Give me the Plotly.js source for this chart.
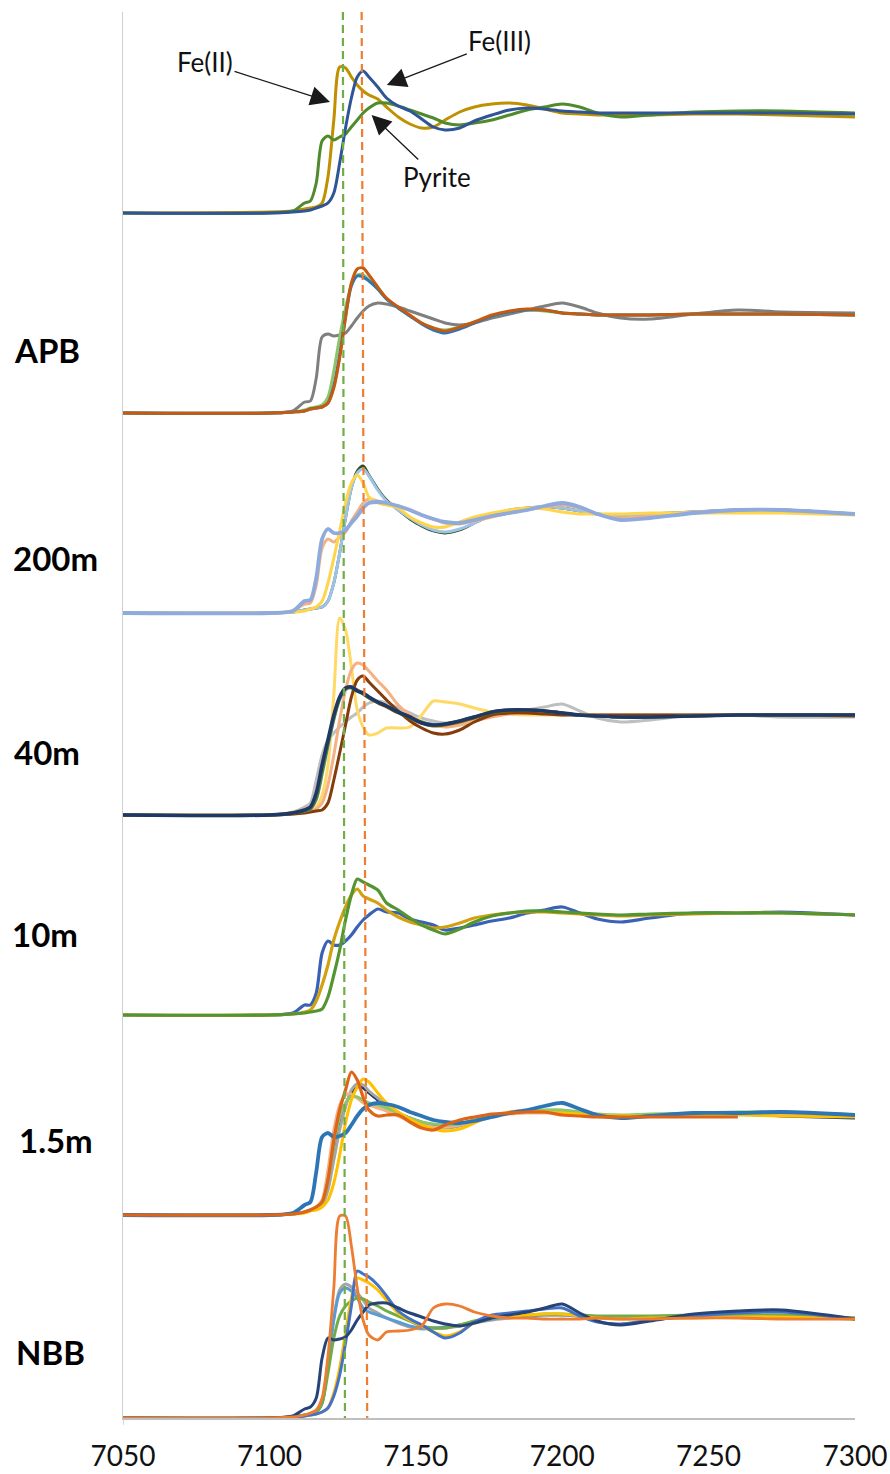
<!DOCTYPE html>
<html>
<head>
<meta charset="utf-8">
<script src="https://cdn.plot.ly/plotly-3.0.1.min.js"></script>
<style>
  html, body { margin: 0; padding: 0; background: #fff; }
  #chart { width: 890px; height: 1474px; }
</style>
</head>
<body>
<div id="chart"></div>
<script>
// ---------- DATA ----------
// common energy grid (eV)
const energy = [7050, 7100, 7108, 7112, 7114, 7116, 7118, 7120, 7122, 7124,
                7126, 7128, 7130, 7132, 7134, 7137, 7140, 7144, 7148, 7152,
                7156, 7160, 7165, 7170, 7176, 7182, 7188, 7194, 7200, 7206,
                7212, 7220, 7230, 7245, 7260, 7275, 7300];
const xTicks = [7050, 7100, 7150, 7200, 7250, 7300];
const panelLabels = ["APB", "200m", "40m", "10m", "1.5m", "NBB"];

// normalized absorbance (standards)
const top_feII   = [0,0.01,0.02,0.04,0.05,0.06,0.10,0.36,0.93,1.46, 1.45,1.36,1.28,1.22,1.18,1.14,1.06,0.96,0.89,0.85, 0.86,0.93,1.01,1.06,1.09,1.10,1.08,1.04,1.00,0.99, 0.98,0.98,0.98,0.99,0.99,0.98,0.96];
const top_feIII  = [0,0.00,0.01,0.02,0.03,0.05,0.07,0.10,0.20,0.50, 0.85,1.15,1.36,1.42,1.36,1.26,1.15,1.07,1.02,0.94, 0.86,0.83,0.85,0.92,0.98,1.03,1.05,1.04,1.02,1.01, 1.00,1.00,1.00,1.00,1.00,1.00,0.99];
const top_pyrite = [0,0.00,0.02,0.10,0.12,0.30,0.72,0.77,0.73,0.76, 0.79,0.86,0.93,1.00,1.05,1.10,1.10,1.07,1.03,0.99, 0.95,0.90,0.88,0.90,0.93,0.98,1.03,1.06,1.09,1.06, 1.00,0.96,0.98,1.01,1.02,1.02,1.00];

// APB
const apb_orange = [0,0.00,0.01,0.02,0.04,0.05,0.06,0.10,0.25,0.55, 0.95,1.30,1.44,1.45,1.38,1.26,1.15,1.06,0.98,0.90, 0.85,0.82,0.86,0.91,0.98,1.02,1.04,1.03,1.00,0.99, 0.98,0.98,0.98,0.99,0.99,0.99,0.98];
const apb_blue   = [0,0.00,0.01,0.02,0.04,0.05,0.06,0.10,0.27,0.58, 0.97,1.27,1.37,1.36,1.32,1.24,1.14,1.05,0.97,0.89, 0.83,0.80,0.84,0.90,0.97,1.01,1.03,1.03,1.00,0.99, 0.98,0.98,0.98,0.99,0.99,0.99,0.98];
const apb_green  = [0,0.00,0.01,0.03,0.05,0.06,0.08,0.16,0.42,0.76, 1.05,1.28,1.38,1.38,1.33,1.24,1.14,1.05,0.97,0.90, 0.85,0.83,0.86,0.91,0.97,1.01,1.03,1.02,1.00,0.99, 0.98,0.98,0.98,0.99,0.99,0.99,0.98];
const apb_gray   = [0,0.00,0.02,0.11,0.12,0.35,0.76,0.79,0.77,0.78, 0.80,0.87,0.95,1.02,1.07,1.10,1.09,1.06,1.02,0.98, 0.94,0.90,0.88,0.90,0.95,0.99,1.03,1.07,1.10,1.06, 1.00,0.95,0.94,0.99,1.03,1.01,1.00];

// 200m
const m200_dkgreen = [0,0.00,0.01,0.03,0.04,0.05,0.06,0.12,0.30,0.60, 0.95,1.25,1.42,1.47,1.38,1.24,1.13,1.03,0.94,0.87, 0.82,0.80,0.83,0.90,0.98,1.03,1.05,1.06,1.05,1.02, 0.99,0.98,0.99,1.01,1.03,1.03,0.99];
const m200_ltblue  = [0,0.00,0.01,0.03,0.04,0.05,0.06,0.12,0.30,0.60, 0.95,1.25,1.40,1.44,1.37,1.23,1.12,1.03,0.95,0.88, 0.83,0.81,0.84,0.90,0.98,1.03,1.05,1.06,1.05,1.02, 0.99,0.98,0.99,1.01,1.03,1.03,0.99];
const m200_yellow  = [0,0.00,0.01,0.02,0.04,0.06,0.12,0.30,0.55,0.82, 1.10,1.30,1.38,1.30,1.16,1.10,1.08,1.05,0.96,0.90, 0.86,0.86,0.91,0.96,1.00,1.03,1.05,1.04,1.01,0.99, 0.99,0.99,1.00,1.00,1.00,1.00,0.98];
const m200_salmon  = [0,0.00,0.02,0.09,0.10,0.28,0.65,0.74,0.71,0.76, 0.81,0.92,1.01,1.10,1.14,1.12,1.10,1.07,1.03,0.98, 0.94,0.90,0.89,0.92,0.96,1.00,1.03,1.06,1.08,1.05, 0.99,0.95,0.97,1.01,1.03,1.03,0.99];
const m200_peri    = [0,0.00,0.02,0.12,0.13,0.35,0.74,0.84,0.80,0.80, 0.83,0.90,0.97,1.05,1.10,1.11,1.10,1.07,1.03,0.98, 0.94,0.91,0.90,0.93,0.97,1.00,1.03,1.07,1.10,1.06, 0.99,0.93,0.95,1.00,1.03,1.03,0.99];

// 40m
const m40_yellow = [0,0.00,0.01,0.03,0.05,0.08,0.20,0.50,1.20,1.97, 1.85,1.48,1.05,0.88,0.80,0.82,0.87,0.87,0.88,1.00, 1.14,1.13,1.11,1.07,1.03,1.01,1.00,1.00,1.00,1.00, 1.00,1.00,1.00,1.00,1.00,1.00,0.99];
const m40_salmon = [0,0.00,0.01,0.03,0.04,0.06,0.12,0.30,0.60,0.95, 1.25,1.45,1.52,1.50,1.44,1.34,1.25,1.10,1.00,0.93, 0.90,0.88,0.90,0.94,0.98,1.01,1.02,1.02,1.01,1.00, 1.00,1.00,1.00,1.00,1.00,1.00,0.99];
const m40_brown  = [0,0.00,0.01,0.02,0.03,0.04,0.05,0.12,0.35,0.62, 0.90,1.18,1.35,1.39,1.33,1.24,1.15,1.04,0.94,0.87, 0.82,0.81,0.85,0.93,1.00,1.02,1.02,1.01,1.00,1.00, 1.00,1.00,1.00,1.00,1.00,1.00,0.99];
const m40_gray   = [0,0.00,0.03,0.08,0.12,0.35,0.60,0.75,0.82,0.88, 0.93,0.98,1.02,1.08,1.12,1.14,1.12,1.07,1.02,0.97, 0.94,0.92,0.93,0.96,0.99,1.02,1.05,1.08,1.11,1.04, 0.97,0.93,0.95,1.00,1.00,0.98,0.98];
const m40_ltblue = [0,0.00,0.02,0.04,0.06,0.15,0.40,0.68,0.95,1.15, 1.25,1.28,1.25,1.22,1.18,1.13,1.09,1.03,0.98,0.93, 0.91,0.91,0.94,0.98,1.03,1.05,1.05,1.04,1.02,1.00, 0.99,0.98,0.98,0.99,1.00,1.00,1.00];
const m40_olive  = [0,0.00,0.02,0.04,0.07,0.18,0.45,0.72,0.98,1.17, 1.26,1.28,1.25,1.21,1.17,1.12,1.08,1.02,0.97,0.92, 0.89,0.90,0.93,0.97,1.02,1.04,1.05,1.04,1.02,1.00, 0.99,0.98,0.98,0.99,1.00,1.00,1.00];
const m40_green  = [0,0.00,0.02,0.04,0.06,0.16,0.42,0.70,0.96,1.16, 1.26,1.27,1.24,1.21,1.17,1.13,1.09,1.03,0.98,0.93, 0.90,0.91,0.94,0.98,1.03,1.05,1.05,1.04,1.02,1.00, 0.99,0.98,0.98,0.99,1.00,1.00,1.00];
const m40_navy   = [0,0.00,0.02,0.05,0.08,0.22,0.50,0.75,1.00,1.18, 1.27,1.28,1.24,1.22,1.18,1.13,1.09,1.03,0.98,0.92, 0.90,0.91,0.94,0.98,1.03,1.05,1.05,1.04,1.02,1.00, 0.99,0.98,0.98,0.99,1.00,1.00,1.00];

// 10m
const m10_blue  = [0,0.00,0.02,0.10,0.10,0.22,0.62,0.74,0.70,0.70, 0.74,0.80,0.88,0.95,1.00,1.06,1.03,1.02,0.96,0.93, 0.90,0.85,0.87,0.90,0.94,0.97,1.02,1.05,1.08,1.02, 0.96,0.93,0.97,1.02,1.02,1.03,1.00];
const m10_gold  = [0,0.00,0.01,0.03,0.05,0.14,0.30,0.50,0.75,0.93, 1.08,1.20,1.26,1.19,1.16,1.12,1.05,0.98,0.93,0.90, 0.87,0.88,0.92,0.97,1.00,1.02,1.03,1.03,1.02,1.01, 1.00,0.99,1.00,1.01,1.02,1.02,1.00];
const m10_green = [0,0.00,0.01,0.02,0.03,0.04,0.06,0.18,0.40,0.65, 0.95,1.20,1.36,1.33,1.30,1.25,1.12,1.05,0.97,0.90, 0.85,0.81,0.86,0.93,0.99,1.02,1.04,1.04,1.03,1.02, 1.01,1.00,1.01,1.02,1.02,1.02,1.00];

// 1.5m
const m15_navy   = [0,0.00,0.01,0.03,0.05,0.08,0.12,0.30,0.60,0.90, 1.10,1.22,1.28,1.27,1.22,1.15,1.09,1.02,0.97,0.93, 0.90,0.89,0.91,0.95,0.99,1.02,1.03,1.03,1.02,1.01, 1.00,0.99,1.00,1.01,1.01,0.99,0.97];
const m15_gray   = [0,0.00,0.01,0.03,0.05,0.07,0.10,0.25,0.55,0.85, 1.08,1.25,1.31,1.30,1.24,1.17,1.10,1.02,0.96,0.91, 0.88,0.87,0.89,0.94,0.99,1.02,1.03,1.03,1.02,1.01, 1.00,0.99,1.00,1.01,1.01,1.01,0.99];
const m15_salmon = [0,0.00,0.01,0.03,0.05,0.08,0.15,0.45,0.85,1.10, 1.20,1.21,1.17,1.12,1.10,1.07,1.04,0.99,0.94,0.90, 0.88,0.88,0.90,0.94,0.98,1.01,1.02,1.02,1.02,1.01, 1.00,0.99,1.00,1.01,1.01,1.01,0.99];
const m15_green  = [0,0.00,0.01,0.03,0.05,0.08,0.12,0.35,0.70,0.98, 1.12,1.18,1.18,1.15,1.12,1.10,1.07,1.02,0.97,0.93, 0.91,0.90,0.91,0.95,0.99,1.02,1.04,1.05,1.05,1.03, 1.01,1.00,1.01,1.02,1.03,1.03,1.00];
const m15_yellow = [0,0.00,0.01,0.02,0.04,0.05,0.08,0.15,0.32,0.60, 0.92,1.15,1.28,1.36,1.33,1.22,1.12,1.03,0.96,0.90, 0.86,0.84,0.86,0.92,0.99,1.03,1.04,1.03,1.02,1.01, 1.00,0.99,0.99,1.00,1.00,0.99,0.98];
const m15_blue   = [0,0.00,0.02,0.10,0.13,0.43,0.78,0.82,0.78,0.79, 0.82,0.90,0.99,1.06,1.10,1.12,1.11,1.08,1.03,0.99, 0.95,0.93,0.92,0.94,0.98,1.02,1.05,1.09,1.12,1.06, 1.00,0.97,0.99,1.02,1.02,1.03,1.00];
const m15_orange = [0,0.00,0.01,0.03,0.05,0.08,0.13,0.35,0.75,1.05, 1.25,1.43,1.35,1.18,1.05,0.99,1.00,1.00,0.93,0.87, 0.85,0.90,0.95,0.98,1.01,1.02,1.03,1.03,1.00,0.99, 0.98,0.98,0.98,0.98,0.98,null,null];

// NBB
const nbb_navy   = [0,0.00,0.02,0.09,0.11,0.20,0.60,0.80,0.78,0.79, 0.81,0.88,0.98,1.06,1.13,1.15,1.15,1.10,1.05,1.01, 0.97,0.94,0.92,0.95,1.00,1.03,1.06,1.10,1.14,1.05, 0.97,0.93,0.97,1.04,1.07,1.08,0.99];
const nbb_green  = [0,0.00,0.01,0.03,0.04,0.06,0.15,0.45,0.80,1.02, 1.12,1.17,1.20,1.19,1.16,1.12,1.07,1.02,0.97,0.92, 0.90,0.90,0.93,0.97,1.00,1.02,1.03,1.04,1.04,1.03, 1.02,1.02,1.02,1.03,1.03,1.03,1.00];
const nbb_gray   = [0,0.00,0.01,0.03,0.04,0.06,0.15,0.55,1.00,1.28, 1.34,1.31,1.25,1.18,1.10,1.05,1.00,0.95,0.91,0.89, 0.90,0.90,0.92,0.95,0.98,1.00,1.02,1.03,1.03,1.02, 1.01,1.00,1.01,1.02,1.02,1.02,1.00];
const nbb_ltblue = [0,0.00,0.01,0.03,0.04,0.06,0.15,0.55,0.98,1.25, 1.30,1.27,1.20,1.10,1.06,1.03,1.00,0.96,0.92,0.90, 0.90,0.91,0.93,0.96,0.99,1.01,1.02,1.03,1.03,1.02, 1.01,1.00,1.01,1.02,1.02,1.01,0.99];
const nbb_yellow = [0,0.00,0.01,0.02,0.03,0.04,0.06,0.10,0.25,0.50, 0.85,1.20,1.40,1.38,1.35,1.28,1.18,1.05,0.98,0.92, 0.86,0.82,0.86,0.95,1.00,1.02,1.03,1.04,1.04,1.02, 1.00,0.99,1.00,1.00,1.01,1.01,0.99];
const nbb_royal  = [0,0.00,0.00,0.02,0.03,0.04,0.06,0.10,0.22,0.43, 0.75,1.12,1.47,1.44,1.41,1.33,1.22,1.07,0.99,0.93, 0.86,0.80,0.85,0.96,1.03,1.05,1.07,1.09,1.10,1.02, 0.96,0.94,0.98,1.02,1.05,1.06,0.99];
const nbb_orange = [0,0.00,0.01,0.03,0.05,0.08,0.20,0.62,1.30,2.02, 2.02,1.72,1.30,0.98,0.83,0.78,0.86,0.87,0.88,0.92, 1.10,1.14,1.12,1.06,1.02,1.00,1.00,0.99,0.99,0.99, 1.00,0.99,0.99,1.00,1.00,0.99,0.99];

// reference energies of the dashed guide lines (top, bottom)
const feIIEdge  = [7125.1, 7125.8];
const feIIIEdge = [7131.5, 7133.4];

// ---------- CHART ----------
const panels = [
  { offset: 12.05, label: null, series: [
      [top_feII, '#BF9000', 3.0], [top_pyrite, '#4F8A2C', 3.0], [top_feIII, '#2F5597', 3.0]] },
  { offset: 10.05, label: 0, series: [
      [apb_gray, '#7F7F7F', 3.0], [apb_green, '#8DC66A', 3.0], [apb_blue, '#2E75B6', 3.0], [apb_orange, '#C55A11', 3.0]] },
  { offset: 8.05, label: 1, series: [
      [m200_dkgreen, '#2F4F1F', 2.8], [m200_ltblue, '#9DC3E6', 3.0], [m200_salmon, '#F4B183', 3.0],
      [m200_yellow, '#FFD54A', 3.0], [m200_peri, '#8FAADC', 3.8]] },
  { offset: 6.03, label: 2, series: [
      [m40_gray, '#BFBFBF', 3.0], [m40_yellow, '#FFD966', 3.0], [m40_salmon, '#F4B183', 3.0],
      [m40_brown, '#843C0C', 3.0], [m40_ltblue, '#9DC3E6', 3.0], [m40_olive, '#7F6000', 3.0],
      [m40_green, '#548235', 3.0], [m40_navy, '#203864', 3.6]] },
  { offset: 4.03, label: 3, series: [
      [m10_blue, '#3A62B4', 3.2], [m10_gold, '#D1A10E', 3.2], [m10_green, '#559531', 3.2]] },
  { offset: 2.03, label: 4, series: [
      [m15_navy, '#203864', 2.8], [m15_gray, '#A5A5A5', 3.0], [m15_salmon, '#F4B183', 3.0],
      [m15_green, '#8DC66A', 3.0], [m15_yellow, '#FFC000', 3.0], [m15_blue, '#2E75B6', 3.8],
      [m15_orange, '#DE6418', 3.2]] },
  { offset: 0.0, label: 5, series: [
      [nbb_gray, '#A5A5A5', 3.0], [nbb_ltblue, '#5B9BD5', 3.0], [nbb_green, '#70AD47', 3.0],
      [nbb_yellow, '#FFC000', 3.0], [nbb_royal, '#4472C4', 3.0], [nbb_navy, '#264478', 3.0],
      [nbb_orange, '#ED7D31', 2.8]] }
];

const traces = [];
panels.forEach(p => {
  p.series.forEach(s => {
    traces.push({
      type: 'scatter', mode: 'lines', x: energy,
      y: s[0].map(v => v === null ? null : v + p.offset),
      line: { color: s[1], width: s[2], shape: 'spline', smoothing: 0.8 },
      hoverinfo: 'skip', showlegend: false
    });
  });
});

const labelY = [10.68, 8.60, 6.66, 4.84, 2.78, 0.66];
const labelX = [12, 11, 12, 10, 17, 14];
const annotations = [];
panels.forEach(p => {
  if (p.label === null) return;
  const i = p.label;
  annotations.push({
    xref: 'paper', yref: 'y', x: (labelX[i] - 123) / 732, y: labelY[i],
    xanchor: 'left', yanchor: 'middle', showarrow: false,
    text: panelLabels[i],
    font: { family: 'Lato, "Liberation Sans", sans-serif', size: 33, color: '#000', weight: 'bold' }
  });
});
const arrowFont = { family: 'Lato, "Liberation Sans", sans-serif', size: 26, color: '#111' };
const arrowCommon = { showarrow: true, arrowhead: 2, arrowsize: 3.0, arrowwidth: 1.3,
  arrowcolor: '#1a1a1a', standoff: 0, font: arrowFont, xref: 'x', yref: 'y' };
annotations.push(Object.assign({ x: 7120.7, y: 13.16, ax: -125, ay: -40, text: 'Fe(II)' }, arrowCommon));
annotations.push(Object.assign({ x: 7140.1, y: 13.33, ax: 113, ay: -44, text: 'Fe(III)' }, arrowCommon));
annotations.push(Object.assign({ x: 7134.9, y: 13.03, ax: 65, ay: 62, text: 'Pyrite' }, arrowCommon));

const shapes = [
  { type: 'line', xref: 'x', yref: 'paper', x0: feIIEdge[0], x1: feIIEdge[1], y0: 1, y1: 0,
    line: { color: '#70AD47', width: 2.2, dash: '8px,5px' } },
  { type: 'line', xref: 'x', yref: 'paper', x0: feIIIEdge[0], x1: feIIIEdge[1], y0: 1, y1: 0,
    line: { color: '#ED7D31', width: 2.2, dash: '8px,5px' } },
  { type: 'line', xref: 'x', yref: 'paper', x0: 7050, x1: 7050, y0: 0, y1: -0.005,
    line: { color: '#C8C8C8', width: 1.5 } }
];

const layout = {
  width: 890, height: 1474,
  margin: { l: 123, r: 35, t: 12, b: 56 },
  paper_bgcolor: '#fff', plot_bgcolor: '#fff',
  showlegend: false,
  xaxis: {
    range: [7050, 7300], tickmode: 'array', tickvals: xTicks, ticktext: xTicks.map(String),
    showgrid: false, zeroline: false, showline: true, linecolor: '#BFBFBF', linewidth: 2,
    ticks: '', ticklabelstandoff: 12, ticklabeloverflow: 'allow',
    tickfont: { family: 'Lato, "Liberation Sans", sans-serif', size: 28, color: '#111' }
  },
  yaxis: {
    range: [0, 14.06], showgrid: false, zeroline: false, showline: true,
    linecolor: '#CFCFCF', linewidth: 1.5, ticks: '', showticklabels: false
  },
  shapes: shapes,
  annotations: annotations
};

Plotly.newPlot('chart', traces, layout, { displayModeBar: false, staticPlot: true });
</script>
</body>
</html>
